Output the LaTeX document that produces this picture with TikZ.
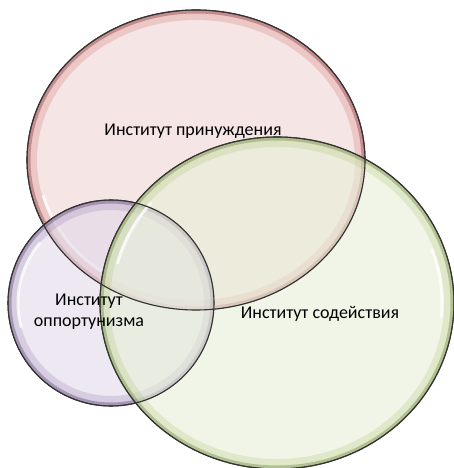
\documentclass[tikz,border=0pt]{standalone}
\usepackage{fontspec}
\setmainfont{Carlito}
\usetikzlibrary{shapes.geometric}

\definecolor{coercionred}{HTML}{C0504D}
\definecolor{assistgreen}{HTML}{9BBB59}
\definecolor{opportpurple}{HTML}{8064A2}

\tikzset{
  bubble/.style={shape=ellipse, inner sep=0pt, outer sep=0pt, draw=black!80, line width=1.1pt,
    fill=#1!24, fill opacity=0.6},
  rim/.style={#1, line width=20pt, opacity=0.2},
  innerrim/.style={#1!70!black, line width=7pt, opacity=0.4},
  shine/.style={white, line width=3pt, opacity=0.75, line cap=round},
  label/.style={text=black, font=\fontsize{18}{21}\selectfont, align=center, text opacity=1}
}

\begin{document}
\begin{tikzpicture}[x=1pt,y=-1pt]
\useasboundingbox[fill=white] (0,0) rectangle (453,468);

% coercion
\node[bubble=coercionred, minimum width=338pt, minimum height=300pt] (coercion) at (196,160) {};
\begin{scope}
  \clip (196,160) ellipse [x radius=169pt, y radius=150pt];
  \draw[rim=coercionred] (196,160) ellipse [x radius=169pt, y radius=150pt];
  \draw[innerrim=coercionred] (196,160) ellipse [x radius=169pt, y radius=150pt];
\end{scope}
\draw[shine] (196,160) ++(195:158pt and 139pt) arc[start angle=195, end angle=235, x radius=158pt, y radius=139pt];

% opportunism
\node[bubble=opportpurple, minimum width=206pt, minimum height=206pt] (opport) at (111,303) {};
\begin{scope}
  \clip (111,303) circle [radius=103pt];
  \draw[rim=opportpurple] (111,303) circle [radius=103pt];
  \draw[innerrim=opportpurple] (111,303) circle [radius=103pt];
\end{scope}
\draw[shine] (111,303) ++(140:93pt) arc[start angle=140, end angle=195, radius=93pt];

% assistance
\node[bubble=assistgreen, minimum width=354pt, minimum height=332pt] (assist) at (277,303) {};
\begin{scope}
  \clip (277,303) ellipse [x radius=177pt, y radius=166pt];
  \draw[rim=assistgreen] (277,303) ellipse [x radius=177pt, y radius=166pt];
  \draw[innerrim=assistgreen] (277,303) ellipse [x radius=177pt, y radius=166pt];
\end{scope}
\draw[shine] (277,303) ++(140:165pt and 155pt) arc[start angle=140, end angle=165, x radius=165pt, y radius=155pt];
\draw[shine] (277,303) ++(-5:165pt and 155pt) arc[start angle=-5, end angle=20, x radius=165pt, y radius=155pt];

% outlines again on top
\draw[black!80, line width=1.1pt] (coercion.center) ellipse [x radius=169pt, y radius=150pt];
\draw[black!80, line width=1.1pt] (opport.center) circle [radius=103pt];
\draw[black!80, line width=1.1pt] (assist.center) ellipse [x radius=177pt, y radius=166pt];

\node[label] (coercionlbl) at (193,131) {Институт принуждения};
\node[label] (assistlbl) at (320,314) {Институт содействия};
\node[label] (opportlbl) at (89,312) {Институт\\оппортунизма};
\end{tikzpicture}
\end{document}
